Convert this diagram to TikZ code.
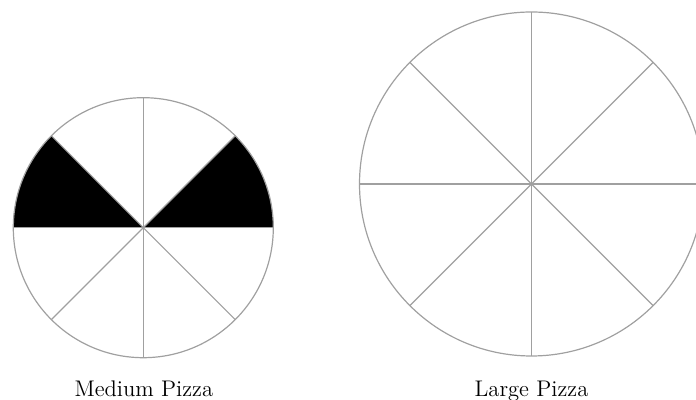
\documentclass[tikz,border=0pt]{standalone}
\usepackage{xcolor}
\usepackage{tikz}
\usetikzlibrary{positioning, calc}
\definecolor{crustgray}{RGB}{160, 160, 160}

\begin{document}
\begin{tikzpicture}[
    x=0.5pt, y=0.5pt,
    % Style definitions
    crust/.style={draw=crustgray, line width=0.6pt},
    spoke/.style={draw=crustgray, line width=0.6pt},
    slice/.style={fill=black},
    pizzalabel/.style={font=\fontsize{11.3}{13}\selectfont, anchor=base, inner sep=0pt}
]
    \useasboundingbox (0,0) rectangle (696,400);

    % === MEDIUM PIZZA ===
    \coordinate (med_c) at (143.3,172.3);
    \fill [slice] (med_c) -- ++(0:130) arc[start angle=0, end angle=45, radius=130] -- cycle;
    \fill [slice] (med_c) -- ++(135:130) arc[start angle=135, end angle=180, radius=130] -- cycle;
    \foreach \a in {0,45,...,315}
        \draw [spoke] (med_c) -- ++(\a:130);
    \draw [crust] (med_c) circle[radius=130];
    \node (med_label) [pizzalabel] at (143.8,3.5) {Medium Pizza};

    % === LARGE PIZZA ===
    \coordinate (lrg_c) at (531.5,216);
    \foreach \a in {0,45,...,315}
        \draw [spoke] (lrg_c) -- ++(\a:172);
    \draw [crust] (lrg_c) circle[radius=172];
    \node (lrg_label) [pizzalabel] at (531.5,3.5) {Large Pizza};

\end{tikzpicture}
\end{document}
